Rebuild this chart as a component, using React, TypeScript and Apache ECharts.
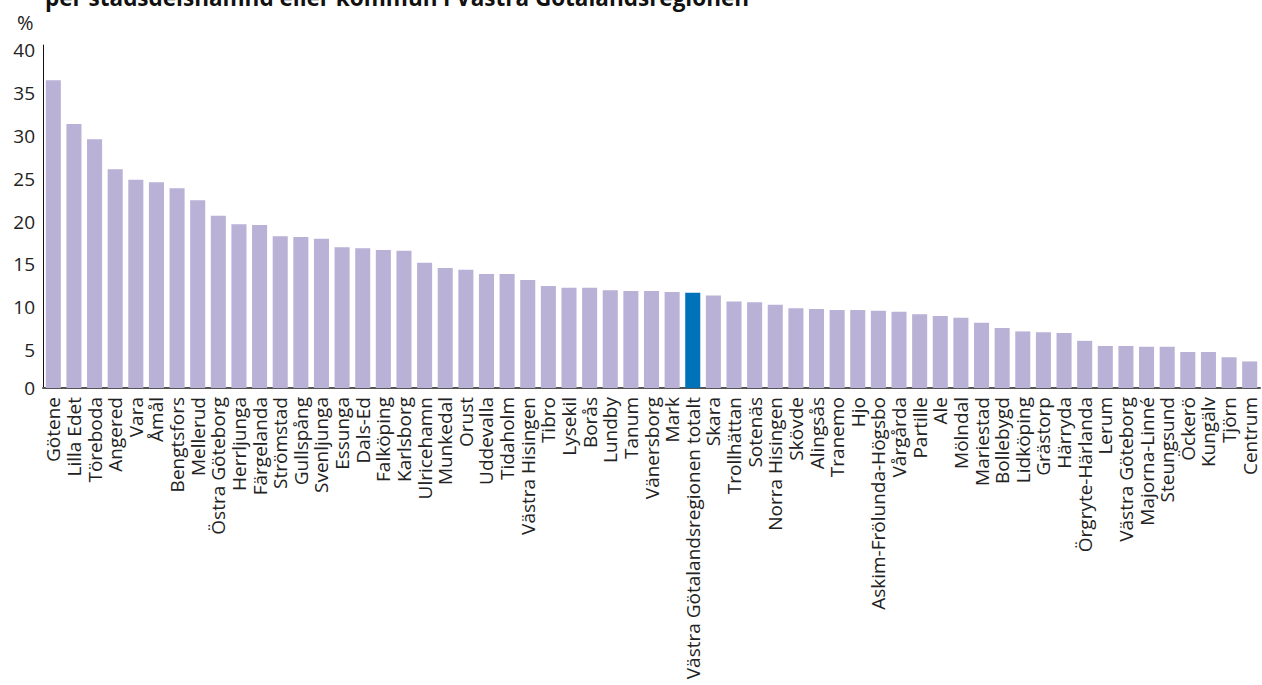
import React, { useEffect, useRef } from "react";
import * as echarts from "echarts";

const categories: string[] = [
  "Götene", "Lilla Edet", "Töreboda", "Angered", "Vara", "Åmål", "Bengtsfors", "Mellerud",
  "Östra Göteborg", "Herrljunga", "Färgelanda", "Strömstad", "Gullspång", "Svenljunga",
  "Essunga", "Dals-Ed", "Falköping", "Karlsborg", "Ulricehamn", "Munkedal", "Orust",
  "Uddevalla", "Tidaholm", "Västra Hisingen", "Tibro", "Lysekil", "Borås", "Lundby",
  "Tanum", "Vänersborg", "Mark", "Västra Götalandsregionen totalt", "Skara", "Trollhättan",
  "Sotenäs", "Norra Hisingen", "Skövde", "Alingsås", "Tranemo", "Hjo",
  "Askim-Frölunda-Högsbo", "Vårgårda", "Partille", "Ale", "Mölndal", "Mariestad",
  "Bollebygd", "Lidköping", "Grästorp", "Härryda", "Örgryte-Härlanda", "Lerum",
  "Västra Göteborg", "Majorna-Linné", "Steungsund", "Öckerö", "Kungälv", "Tjörn", "Centrum",
];

const values: number[] = [
  35.9, 30.8, 29.0, 25.5, 24.3, 24.0, 23.3, 21.9, 20.1, 19.1, 19.0, 17.7, 17.6, 17.4,
  16.4, 16.3, 16.1, 16.0, 14.6, 14.0, 13.8, 13.3, 13.3, 12.6, 11.9, 11.7, 11.7, 11.4,
  11.3, 11.3, 11.2, 11.1, 10.8, 10.1, 10.0, 9.7, 9.3, 9.2, 9.1, 9.1,
  9.0, 8.9, 8.6, 8.4, 8.2, 7.6,
  7.0, 6.6, 6.5, 6.4, 5.5, 4.9,
  4.9, 4.8, 4.8, 4.2, 4.2, 3.6, 3.1,
];

const highlightCategory = "Västra Götalandsregionen totalt";
const titleText = "per stadsdelsnämnd eller kommun i Västra Götalandsregionen";
const unitText = "%";
const yMin = 0;
const yMax = 40;
const yStep = 5;

const FONT = "'Open Sans', 'Noto Sans', sans-serif";
const BAR = "#BAB1D6";
const HIGHLIGHT = "#0072BA";
const TEXT = "#222222";

export default function App() {
  const ref = useRef<HTMLDivElement>(null);

  useEffect(() => {
    if (!ref.current) return;
    const chart = echarts.init(ref.current, undefined, { renderer: "svg" });
    chart.setOption({
      animation: false,
      backgroundColor: "#ffffff",
      textStyle: { fontFamily: FONT },
      grid: { left: 43, right: 2, top: 45, bottom: 297, containLabel: false },
      graphic: [
        {
          type: "text",
          left: 45,
          top: -14,
          style: {
            text: titleText,
            font: `bold 22.5px ${FONT}`,
            fill: "#111111",
          },
        },
        {
          type: "text",
          left: 17,
          top: 12,
          style: { text: unitText, font: `20px ${FONT}`, fill: TEXT },
        },
      ],
      xAxis: {
        type: "category",
        data: categories,
        axisLine: { show: true, lineStyle: { color: "#555555", width: 2 } },
        axisTick: { show: false },
        axisLabel: {
          rotate: 90,
          interval: 0,
          margin: 9,
          color: TEXT,
          fontSize: 19,
          fontFamily: FONT,
        },
      },
      yAxis: {
        type: "value",
        min: yMin,
        max: yMax,
        interval: yStep,
        splitLine: { show: false },
        axisLine: { show: true, lineStyle: { color: "#111111", width: 1 } },
        axisTick: { show: false },
        axisLabel: {
          margin: 8,
          color: TEXT,
          fontFamily: FONT,
          formatter: (v: number) => (v === 0 ? `{z|${v}}` : `{a|${v}}`),
          rich: {
            a: { fontSize: 19, color: TEXT, fontFamily: FONT, padding: [10, 0, 0, 0] },
            z: { fontSize: 19, color: TEXT, fontFamily: FONT },
          },
        },
      },
      series: [
        {
          type: "bar",
          barCategoryGap: "27%",
          data: categories.map((c, i) => ({
            value: values[i],
            itemStyle: { color: c === highlightCategory ? HIGHLIGHT : BAR },
          })),
        },
      ],
    });
    return () => chart.dispose();
  }, []);

  return (
    <div
      ref={ref}
      style={{ position: "fixed", left: 0, top: 0, width: 1262, height: 685, background: "#fff" }}
    />
  );
}
